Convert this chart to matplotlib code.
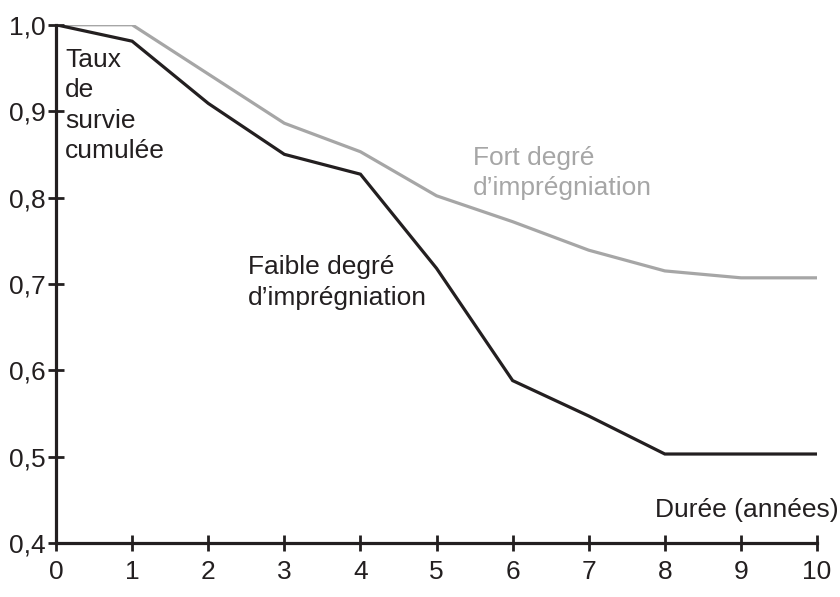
import matplotlib
matplotlib.use("Agg")
import matplotlib.pyplot as plt

# survival curves
years = [0, 1, 2, 3, 4, 5, 6, 7, 8, 9, 10]
faible = [1.0, 0.981, 0.909, 0.850, 0.827, 0.718, 0.588, 0.547, 0.503, 0.503, 0.503]
fort = [1.0, 1.0, 0.943, 0.886, 0.853, 0.802, 0.772, 0.739, 0.715, 0.707, 0.707]

x_ticks = [0, 1, 2, 3, 4, 5, 6, 7, 8, 9, 10]
y_ticks = [0.4, 0.5, 0.6, 0.7, 0.8, 0.9, 1.0]
y_labels = ["0,4", "0,5", "0,6", "0,7", "0,8", "0,9", "1,0"]

plt.rcParams['font.family'] = ['Liberation Sans', 'DejaVu Sans']
ink = "#231f20"
grey = "#a6a6a6"
fs = 19

fig = plt.figure(figsize=(8.4, 5.97), dpi=100)
ax = fig.add_axes([0.0667, 0.0905, 0.906, 0.868])

ax.plot(years, fort, color=grey, lw=2.3, solid_joinstyle="miter")
ax.plot(years, faible, color=ink, lw=2.3, solid_joinstyle="miter")

ax.set_xlim(0, 10)
ax.set_ylim(0.4, 1.0)
ax.set_xticks(x_ticks)
ax.set_xticklabels([str(v) for v in x_ticks])
ax.set_yticks(y_ticks)
ax.set_yticklabels(y_labels)

for side in ("top", "right"):
    ax.spines[side].set_visible(False)
for side in ("left", "bottom"):
    ax.spines[side].set_linewidth(2.3)
    ax.spines[side].set_color(ink)
ax.tick_params(direction="inout", length=11, width=2, color=ink,
               labelsize=fs, labelcolor=ink)
ax.tick_params(axis="x", pad=7)
ax.tick_params(axis="y", pad=2)

ax.text(0.12, 0.973, "Taux\nde\nsurvie\ncumulée", fontsize=fs, color=ink,
        va="top", ha="left", linespacing=1.33)
ax.text(2.52, 0.733, "Faible degré\nd\u2019imprégniation", fontsize=fs, color=ink,
        va="top", ha="left", linespacing=1.33)
ax.text(5.48, 0.86, "Fort degré\nd\u2019imprégniation", fontsize=fs, color=grey,
        va="top", ha="left", linespacing=1.33)
ax.text(10.28, 0.43, "Durée (années)", fontsize=fs, color=ink,
        va="baseline", ha="right", clip_on=False)

fig.savefig("out.png", dpi=100)
